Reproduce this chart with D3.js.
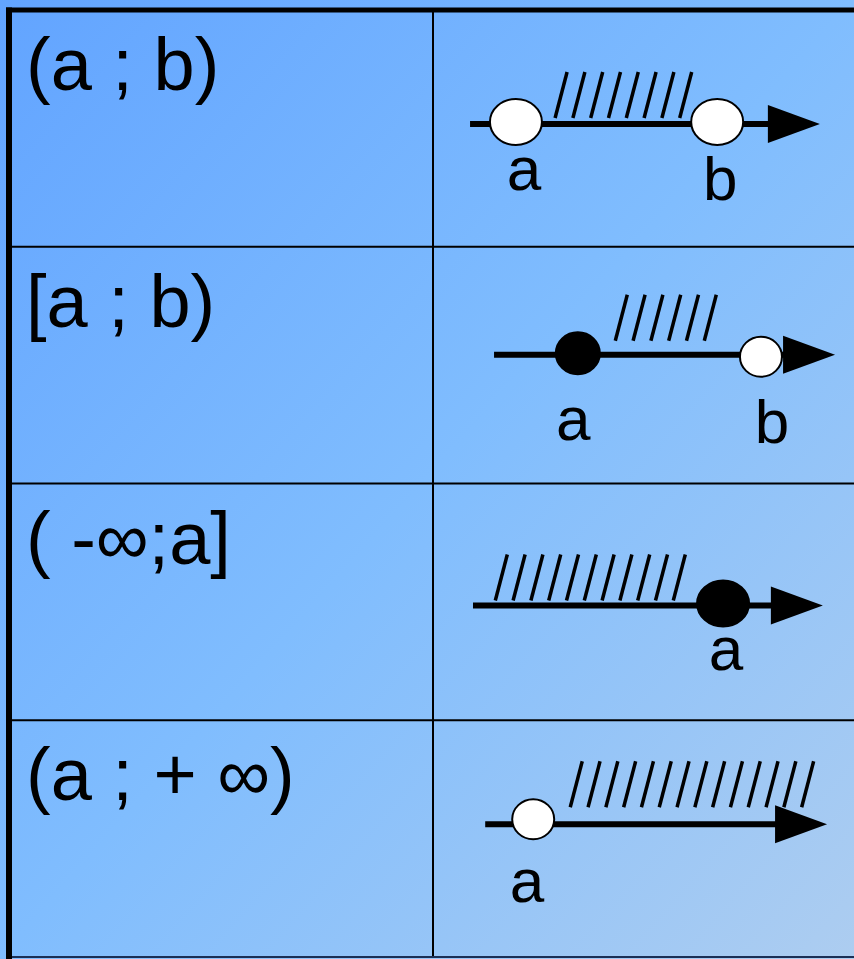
<!DOCTYPE html>
<html>
<head>
<meta charset="utf-8">
<script src="https://cdn.jsdelivr.net/npm/d3@7"></script>
<style>
  html, body { margin: 0; padding: 0; background: #6aa9fe; }
  svg { display: block; }
</style>
</head>
<body>
<div id="chart"></div>
<script>
// interval notation, one per row
const intervals = ["(a ; b)", "[a ; b)", "( -\u221E;a]", "(a ; + \u221E)"];

// number line extent per row, in % of the right column
const lineFrom = [8.8, 14.5, 9.5, 12.4];
const lineTo = [91.9, 95.5, 92.6, 93.6];

// end points (row, name, position on the line, closed or open)
const pointRows = [0, 0, 1, 1, 2, 3];
const pointNames = ["a", "b", "a", "b", "a", "a"];
const pointValues = [19.7, 67.5, 34.4, 77.9, 68.9, 23.8];
const pointClosed = [false, false, true, false, true, false];
const labelValues = [21.6, 68.2, 33.3, 80.5, 69.6, 22.3];

// hatching over the shaded part: first stroke and number of strokes
const hatchStart = [29.0, 43.3, 14.8, 32.6];
const hatchCount = [8, 6, 11, 14];

const width = 854;
const height = 959;
const colSplit = 433;

// layout offsets from each row's top (px)
const lineDy = [114, 108, 122, 104];
const hatchBottomDy = [108, 94, 117, 87];
const pointDy = [112, 112, 106.5, 110, 120, 99];
const pointRx = [26, 26, 22, 21, 26, 21];
const pointRy = [23, 23, 21, 20, 23, 20];
const labelDy = [180, 190, 193, 196, 186, 182];

const svg = d3.select("#chart")
  .append("svg")
  .attr("width", width)
  .attr("height", height);

// background gradient
const grad = svg.append("defs")
  .append("linearGradient")
  .attr("id", "bg")
  .attr("x1", "0%").attr("y1", "0%")
  .attr("x2", "100%").attr("y2", "100%");
grad.append("stop").attr("offset", "0%").attr("stop-color", "#62a4ff");
grad.append("stop").attr("offset", "50%").attr("stop-color", "#80bdfe");
grad.append("stop").attr("offset", "100%").attr("stop-color", "#adcdf0");

svg.append("rect")
  .attr("width", width)
  .attr("height", height)
  .attr("fill", "url(#bg)");

// scales
const yScale = d3.scaleLinear()
  .domain([0, intervals.length])
  .range([10, 957]);

const xScale = d3.scaleLinear()
  .domain([0, 100])
  .range([colSplit, width]);

const hatchStep = 17.8;
const hatchSlant = 12;
const hatchHeight = 46;

// grid lines
const grid = svg.append("g").attr("stroke", "#000");

grid.selectAll("line.row")
  .data(d3.range(1, intervals.length))
  .enter()
  .append("line")
  .attr("class", "row")
  .attr("x1", 9).attr("x2", width)
  .attr("y1", d => yScale(d)).attr("y2", d => yScale(d))
  .attr("stroke-width", 2);

grid.append("line")
  .attr("x1", colSplit).attr("x2", colSplit)
  .attr("y1", yScale(0)).attr("y2", yScale(intervals.length))
  .attr("stroke-width", 2);

grid.append("line")
  .attr("x1", 9).attr("x2", width)
  .attr("y1", yScale(intervals.length)).attr("y2", yScale(intervals.length))
  .attr("stroke", "#1b2f55")
  .attr("stroke-width", 2);

grid.append("line")
  .attr("x1", 6).attr("x2", width)
  .attr("y1", yScale(0)).attr("y2", yScale(0))
  .attr("stroke-width", 5);

grid.append("line")
  .attr("x1", 9).attr("x2", 9)
  .attr("y1", yScale(0) - 2.5).attr("y2", height)
  .attr("stroke-width", 6);

// interval notation
svg.selectAll("text.interval")
  .data(intervals)
  .enter()
  .append("text")
  .attr("class", "interval")
  .attr("x", 26)
  .attr("y", (d, i) => yScale(i) + 80)
  .attr("font-family", "'Liberation Sans', Arial, sans-serif")
  .attr("font-size", 74)
  .attr("fill", "#000")
  .text(d => d);

// number lines
const rows = svg.selectAll("g.line")
  .data(intervals)
  .enter()
  .append("g")
  .attr("class", "line");

rows.append("line")
  .attr("x1", (d, i) => xScale(lineFrom[i]))
  .attr("x2", (d, i) => xScale(lineTo[i]) - 40)
  .attr("y1", (d, i) => yScale(i) + lineDy[i])
  .attr("y2", (d, i) => yScale(i) + lineDy[i])
  .attr("stroke", "#000")
  .attr("stroke-width", 6);

rows.append("path")
  .attr("d", (d, i) => {
    const tip = xScale(lineTo[i]);
    const y = yScale(i) + lineDy[i];
    return `M${tip},${y}L${tip - 52},${y - 19}L${tip - 52},${y + 19}Z`;
  })
  .attr("fill", "#000");

// hatching
rows.each(function (d, i) {
  const g = d3.select(this);
  const yb = yScale(i) + hatchBottomDy[i];
  g.selectAll("line.hatch")
    .data(d3.range(hatchCount[i]))
    .enter()
    .append("line")
    .attr("class", "hatch")
    .attr("x1", k => xScale(hatchStart[i]) + k * hatchStep)
    .attr("x2", k => xScale(hatchStart[i]) + k * hatchStep + hatchSlant)
    .attr("y1", yb)
    .attr("y2", yb - hatchHeight)
    .attr("stroke", "#000")
    .attr("stroke-width", 3.5);
});

// end points
svg.selectAll("ellipse.point")
  .data(pointValues)
  .enter()
  .append("ellipse")
  .attr("class", "point")
  .attr("cx", d => xScale(d))
  .attr("cy", (d, i) => yScale(pointRows[i]) + pointDy[i])
  .attr("rx", (d, i) => pointRx[i])
  .attr("ry", (d, i) => pointRy[i])
  .attr("fill", (d, i) => pointClosed[i] ? "#000" : "#fff")
  .attr("stroke", "#000")
  .attr("stroke-width", 2);

svg.selectAll("text.label")
  .data(pointNames)
  .enter()
  .append("text")
  .attr("class", "label")
  .attr("x", (d, i) => xScale(labelValues[i]))
  .attr("y", (d, i) => yScale(pointRows[i]) + labelDy[i])
  .attr("text-anchor", "middle")
  .attr("font-family", "'Liberation Sans', Arial, sans-serif")
  .attr("font-size", 62)
  .attr("fill", "#000")
  .text(d => d);
</script>
</body>
</html>
